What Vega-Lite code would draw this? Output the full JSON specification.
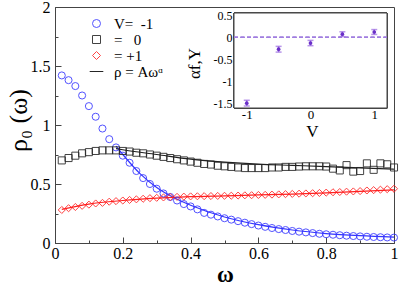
{
  "$schema": "https://vega.github.io/schema/vega-lite/v6.json",
  "width": 339,
  "height": 236,
  "autosize": {"type": "none"},
  "padding": {"left": 55, "top": 7, "right": 5, "bottom": 42},
  "background": "white",
  "config": {
    "font": "'Liberation Serif', 'Times New Roman', serif",
    "locale": {"number": {"decimal": ".", "thousands": ",", "grouping": [3], "currency": ["$", ""], "minus": "-"}},
    "view": {"stroke": "#444", "strokeWidth": 1},
    "axis": {"grid": false, "domainColor": "#444", "tickColor": "#444", "labelColor": "#000", "titleColor": "#000"}
  },
  "datasets": {
    "main": [
      {"w": 0.02, "rho": 1.42, "series": "V=\u00a0\u00a0-1"},
      {"w": 0.04, "rho": 1.38, "series": "V=\u00a0\u00a0-1"},
      {"w": 0.06, "rho": 1.33, "series": "V=\u00a0\u00a0-1"},
      {"w": 0.08, "rho": 1.25, "series": "V=\u00a0\u00a0-1"},
      {"w": 0.10, "rho": 1.16, "series": "V=\u00a0\u00a0-1"},
      {"w": 0.12, "rho": 1.07, "series": "V=\u00a0\u00a0-1"},
      {"w": 0.14, "rho": 0.97, "series": "V=\u00a0\u00a0-1"},
      {"w": 0.16, "rho": 0.88, "series": "V=\u00a0\u00a0-1"},
      {"w": 0.18, "rho": 0.81, "series": "V=\u00a0\u00a0-1"},
      {"w": 0.20, "rho": 0.74, "series": "V=\u00a0\u00a0-1"},
      {"w": 0.22, "rho": 0.68, "series": "V=\u00a0\u00a0-1"},
      {"w": 0.24, "rho": 0.61, "series": "V=\u00a0\u00a0-1"},
      {"w": 0.26, "rho": 0.55, "series": "V=\u00a0\u00a0-1"},
      {"w": 0.28, "rho": 0.50, "series": "V=\u00a0\u00a0-1"},
      {"w": 0.30, "rho": 0.46, "series": "V=\u00a0\u00a0-1"},
      {"w": 0.32, "rho": 0.42, "series": "V=\u00a0\u00a0-1"},
      {"w": 0.34, "rho": 0.39, "series": "V=\u00a0\u00a0-1"},
      {"w": 0.36, "rho": 0.36, "series": "V=\u00a0\u00a0-1"},
      {"w": 0.38, "rho": 0.33, "series": "V=\u00a0\u00a0-1"},
      {"w": 0.40, "rho": 0.31, "series": "V=\u00a0\u00a0-1"},
      {"w": 0.42, "rho": 0.285, "series": "V=\u00a0\u00a0-1"},
      {"w": 0.44, "rho": 0.255, "series": "V=\u00a0\u00a0-1"},
      {"w": 0.46, "rho": 0.24, "series": "V=\u00a0\u00a0-1"},
      {"w": 0.48, "rho": 0.225, "series": "V=\u00a0\u00a0-1"},
      {"w": 0.50, "rho": 0.21, "series": "V=\u00a0\u00a0-1"},
      {"w": 0.52, "rho": 0.198, "series": "V=\u00a0\u00a0-1"},
      {"w": 0.54, "rho": 0.185, "series": "V=\u00a0\u00a0-1"},
      {"w": 0.56, "rho": 0.172, "series": "V=\u00a0\u00a0-1"},
      {"w": 0.58, "rho": 0.16, "series": "V=\u00a0\u00a0-1"},
      {"w": 0.60, "rho": 0.148, "series": "V=\u00a0\u00a0-1"},
      {"w": 0.62, "rho": 0.137, "series": "V=\u00a0\u00a0-1"},
      {"w": 0.64, "rho": 0.127, "series": "V=\u00a0\u00a0-1"},
      {"w": 0.66, "rho": 0.118, "series": "V=\u00a0\u00a0-1"},
      {"w": 0.68, "rho": 0.11, "series": "V=\u00a0\u00a0-1"},
      {"w": 0.70, "rho": 0.102, "series": "V=\u00a0\u00a0-1"},
      {"w": 0.72, "rho": 0.096, "series": "V=\u00a0\u00a0-1"},
      {"w": 0.74, "rho": 0.09, "series": "V=\u00a0\u00a0-1"},
      {"w": 0.76, "rho": 0.084, "series": "V=\u00a0\u00a0-1"},
      {"w": 0.78, "rho": 0.078, "series": "V=\u00a0\u00a0-1"},
      {"w": 0.80, "rho": 0.074, "series": "V=\u00a0\u00a0-1"},
      {"w": 0.82, "rho": 0.07, "series": "V=\u00a0\u00a0-1"},
      {"w": 0.84, "rho": 0.066, "series": "V=\u00a0\u00a0-1"},
      {"w": 0.86, "rho": 0.062, "series": "V=\u00a0\u00a0-1"},
      {"w": 0.88, "rho": 0.059, "series": "V=\u00a0\u00a0-1"},
      {"w": 0.90, "rho": 0.056, "series": "V=\u00a0\u00a0-1"},
      {"w": 0.92, "rho": 0.053, "series": "V=\u00a0\u00a0-1"},
      {"w": 0.94, "rho": 0.051, "series": "V=\u00a0\u00a0-1"},
      {"w": 0.96, "rho": 0.049, "series": "V=\u00a0\u00a0-1"},
      {"w": 0.98, "rho": 0.047, "series": "V=\u00a0\u00a0-1"},
      {"w": 1.00, "rho": 0.046, "series": "V=\u00a0\u00a0-1"},
      {"w": 0.02, "rho": 0.70, "series": "\u00a0\u00a0\u00a0=\u00a0\u00a0\u00a00"},
      {"w": 0.04, "rho": 0.72, "series": "\u00a0\u00a0\u00a0=\u00a0\u00a0\u00a00"},
      {"w": 0.06, "rho": 0.74, "series": "\u00a0\u00a0\u00a0=\u00a0\u00a0\u00a00"},
      {"w": 0.08, "rho": 0.76, "series": "\u00a0\u00a0\u00a0=\u00a0\u00a0\u00a00"},
      {"w": 0.10, "rho": 0.77, "series": "\u00a0\u00a0\u00a0=\u00a0\u00a0\u00a00"},
      {"w": 0.12, "rho": 0.78, "series": "\u00a0\u00a0\u00a0=\u00a0\u00a0\u00a00"},
      {"w": 0.14, "rho": 0.785, "series": "\u00a0\u00a0\u00a0=\u00a0\u00a0\u00a00"},
      {"w": 0.16, "rho": 0.785, "series": "\u00a0\u00a0\u00a0=\u00a0\u00a0\u00a00"},
      {"w": 0.18, "rho": 0.785, "series": "\u00a0\u00a0\u00a0=\u00a0\u00a0\u00a00"},
      {"w": 0.20, "rho": 0.78, "series": "\u00a0\u00a0\u00a0=\u00a0\u00a0\u00a00"},
      {"w": 0.22, "rho": 0.775, "series": "\u00a0\u00a0\u00a0=\u00a0\u00a0\u00a00"},
      {"w": 0.24, "rho": 0.765, "series": "\u00a0\u00a0\u00a0=\u00a0\u00a0\u00a00"},
      {"w": 0.26, "rho": 0.76, "series": "\u00a0\u00a0\u00a0=\u00a0\u00a0\u00a00"},
      {"w": 0.28, "rho": 0.75, "series": "\u00a0\u00a0\u00a0=\u00a0\u00a0\u00a00"},
      {"w": 0.30, "rho": 0.74, "series": "\u00a0\u00a0\u00a0=\u00a0\u00a0\u00a00"},
      {"w": 0.32, "rho": 0.73, "series": "\u00a0\u00a0\u00a0=\u00a0\u00a0\u00a00"},
      {"w": 0.34, "rho": 0.72, "series": "\u00a0\u00a0\u00a0=\u00a0\u00a0\u00a00"},
      {"w": 0.36, "rho": 0.71, "series": "\u00a0\u00a0\u00a0=\u00a0\u00a0\u00a00"},
      {"w": 0.38, "rho": 0.70, "series": "\u00a0\u00a0\u00a0=\u00a0\u00a0\u00a00"},
      {"w": 0.40, "rho": 0.69, "series": "\u00a0\u00a0\u00a0=\u00a0\u00a0\u00a00"},
      {"w": 0.42, "rho": 0.68, "series": "\u00a0\u00a0\u00a0=\u00a0\u00a0\u00a00"},
      {"w": 0.44, "rho": 0.67, "series": "\u00a0\u00a0\u00a0=\u00a0\u00a0\u00a00"},
      {"w": 0.46, "rho": 0.665, "series": "\u00a0\u00a0\u00a0=\u00a0\u00a0\u00a00"},
      {"w": 0.48, "rho": 0.655, "series": "\u00a0\u00a0\u00a0=\u00a0\u00a0\u00a00"},
      {"w": 0.50, "rho": 0.65, "series": "\u00a0\u00a0\u00a0=\u00a0\u00a0\u00a00"},
      {"w": 0.52, "rho": 0.645, "series": "\u00a0\u00a0\u00a0=\u00a0\u00a0\u00a00"},
      {"w": 0.54, "rho": 0.64, "series": "\u00a0\u00a0\u00a0=\u00a0\u00a0\u00a00"},
      {"w": 0.56, "rho": 0.635, "series": "\u00a0\u00a0\u00a0=\u00a0\u00a0\u00a00"},
      {"w": 0.58, "rho": 0.635, "series": "\u00a0\u00a0\u00a0=\u00a0\u00a0\u00a00"},
      {"w": 0.60, "rho": 0.635, "series": "\u00a0\u00a0\u00a0=\u00a0\u00a0\u00a00"},
      {"w": 0.62, "rho": 0.635, "series": "\u00a0\u00a0\u00a0=\u00a0\u00a0\u00a00"},
      {"w": 0.64, "rho": 0.64, "series": "\u00a0\u00a0\u00a0=\u00a0\u00a0\u00a00"},
      {"w": 0.66, "rho": 0.64, "series": "\u00a0\u00a0\u00a0=\u00a0\u00a0\u00a00"},
      {"w": 0.68, "rho": 0.645, "series": "\u00a0\u00a0\u00a0=\u00a0\u00a0\u00a00"},
      {"w": 0.70, "rho": 0.645, "series": "\u00a0\u00a0\u00a0=\u00a0\u00a0\u00a00"},
      {"w": 0.72, "rho": 0.648, "series": "\u00a0\u00a0\u00a0=\u00a0\u00a0\u00a00"},
      {"w": 0.74, "rho": 0.65, "series": "\u00a0\u00a0\u00a0=\u00a0\u00a0\u00a00"},
      {"w": 0.76, "rho": 0.65, "series": "\u00a0\u00a0\u00a0=\u00a0\u00a0\u00a00"},
      {"w": 0.78, "rho": 0.65, "series": "\u00a0\u00a0\u00a0=\u00a0\u00a0\u00a00"},
      {"w": 0.80, "rho": 0.648, "series": "\u00a0\u00a0\u00a0=\u00a0\u00a0\u00a00"},
      {"w": 0.82, "rho": 0.63, "series": "\u00a0\u00a0\u00a0=\u00a0\u00a0\u00a00"},
      {"w": 0.84, "rho": 0.615, "series": "\u00a0\u00a0\u00a0=\u00a0\u00a0\u00a00"},
      {"w": 0.86, "rho": 0.66, "series": "\u00a0\u00a0\u00a0=\u00a0\u00a0\u00a00"},
      {"w": 0.88, "rho": 0.605, "series": "\u00a0\u00a0\u00a0=\u00a0\u00a0\u00a00"},
      {"w": 0.90, "rho": 0.61, "series": "\u00a0\u00a0\u00a0=\u00a0\u00a0\u00a00"},
      {"w": 0.92, "rho": 0.675, "series": "\u00a0\u00a0\u00a0=\u00a0\u00a0\u00a00"},
      {"w": 0.94, "rho": 0.62, "series": "\u00a0\u00a0\u00a0=\u00a0\u00a0\u00a00"},
      {"w": 0.96, "rho": 0.675, "series": "\u00a0\u00a0\u00a0=\u00a0\u00a0\u00a00"},
      {"w": 0.98, "rho": 0.667, "series": "\u00a0\u00a0\u00a0=\u00a0\u00a0\u00a00"},
      {"w": 1.00, "rho": 0.64, "series": "\u00a0\u00a0\u00a0=\u00a0\u00a0\u00a00"},
      {"w": 0.02, "rho": 0.28, "series": "\u00a0\u00a0\u00a0=\u00a0+1"},
      {"w": 0.04, "rho": 0.295, "series": "\u00a0\u00a0\u00a0=\u00a0+1"},
      {"w": 0.06, "rho": 0.305, "series": "\u00a0\u00a0\u00a0=\u00a0+1"},
      {"w": 0.08, "rho": 0.315, "series": "\u00a0\u00a0\u00a0=\u00a0+1"},
      {"w": 0.10, "rho": 0.325, "series": "\u00a0\u00a0\u00a0=\u00a0+1"},
      {"w": 0.12, "rho": 0.335, "series": "\u00a0\u00a0\u00a0=\u00a0+1"},
      {"w": 0.14, "rho": 0.34, "series": "\u00a0\u00a0\u00a0=\u00a0+1"},
      {"w": 0.16, "rho": 0.35, "series": "\u00a0\u00a0\u00a0=\u00a0+1"},
      {"w": 0.18, "rho": 0.355, "series": "\u00a0\u00a0\u00a0=\u00a0+1"},
      {"w": 0.20, "rho": 0.36, "series": "\u00a0\u00a0\u00a0=\u00a0+1"},
      {"w": 0.22, "rho": 0.365, "series": "\u00a0\u00a0\u00a0=\u00a0+1"},
      {"w": 0.24, "rho": 0.37, "series": "\u00a0\u00a0\u00a0=\u00a0+1"},
      {"w": 0.26, "rho": 0.375, "series": "\u00a0\u00a0\u00a0=\u00a0+1"},
      {"w": 0.28, "rho": 0.38, "series": "\u00a0\u00a0\u00a0=\u00a0+1"},
      {"w": 0.30, "rho": 0.383, "series": "\u00a0\u00a0\u00a0=\u00a0+1"},
      {"w": 0.32, "rho": 0.386, "series": "\u00a0\u00a0\u00a0=\u00a0+1"},
      {"w": 0.34, "rho": 0.389, "series": "\u00a0\u00a0\u00a0=\u00a0+1"},
      {"w": 0.36, "rho": 0.391, "series": "\u00a0\u00a0\u00a0=\u00a0+1"},
      {"w": 0.38, "rho": 0.393, "series": "\u00a0\u00a0\u00a0=\u00a0+1"},
      {"w": 0.40, "rho": 0.395, "series": "\u00a0\u00a0\u00a0=\u00a0+1"},
      {"w": 0.42, "rho": 0.396, "series": "\u00a0\u00a0\u00a0=\u00a0+1"},
      {"w": 0.44, "rho": 0.397, "series": "\u00a0\u00a0\u00a0=\u00a0+1"},
      {"w": 0.46, "rho": 0.398, "series": "\u00a0\u00a0\u00a0=\u00a0+1"},
      {"w": 0.48, "rho": 0.399, "series": "\u00a0\u00a0\u00a0=\u00a0+1"},
      {"w": 0.50, "rho": 0.40, "series": "\u00a0\u00a0\u00a0=\u00a0+1"},
      {"w": 0.52, "rho": 0.401, "series": "\u00a0\u00a0\u00a0=\u00a0+1"},
      {"w": 0.54, "rho": 0.402, "series": "\u00a0\u00a0\u00a0=\u00a0+1"},
      {"w": 0.56, "rho": 0.404, "series": "\u00a0\u00a0\u00a0=\u00a0+1"},
      {"w": 0.58, "rho": 0.405, "series": "\u00a0\u00a0\u00a0=\u00a0+1"},
      {"w": 0.60, "rho": 0.407, "series": "\u00a0\u00a0\u00a0=\u00a0+1"},
      {"w": 0.62, "rho": 0.408, "series": "\u00a0\u00a0\u00a0=\u00a0+1"},
      {"w": 0.64, "rho": 0.41, "series": "\u00a0\u00a0\u00a0=\u00a0+1"},
      {"w": 0.66, "rho": 0.412, "series": "\u00a0\u00a0\u00a0=\u00a0+1"},
      {"w": 0.68, "rho": 0.414, "series": "\u00a0\u00a0\u00a0=\u00a0+1"},
      {"w": 0.70, "rho": 0.416, "series": "\u00a0\u00a0\u00a0=\u00a0+1"},
      {"w": 0.72, "rho": 0.418, "series": "\u00a0\u00a0\u00a0=\u00a0+1"},
      {"w": 0.74, "rho": 0.42, "series": "\u00a0\u00a0\u00a0=\u00a0+1"},
      {"w": 0.76, "rho": 0.422, "series": "\u00a0\u00a0\u00a0=\u00a0+1"},
      {"w": 0.78, "rho": 0.424, "series": "\u00a0\u00a0\u00a0=\u00a0+1"},
      {"w": 0.80, "rho": 0.427, "series": "\u00a0\u00a0\u00a0=\u00a0+1"},
      {"w": 0.82, "rho": 0.43, "series": "\u00a0\u00a0\u00a0=\u00a0+1"},
      {"w": 0.84, "rho": 0.432, "series": "\u00a0\u00a0\u00a0=\u00a0+1"},
      {"w": 0.86, "rho": 0.435, "series": "\u00a0\u00a0\u00a0=\u00a0+1"},
      {"w": 0.88, "rho": 0.437, "series": "\u00a0\u00a0\u00a0=\u00a0+1"},
      {"w": 0.90, "rho": 0.44, "series": "\u00a0\u00a0\u00a0=\u00a0+1"},
      {"w": 0.92, "rho": 0.445, "series": "\u00a0\u00a0\u00a0=\u00a0+1"},
      {"w": 0.94, "rho": 0.448, "series": "\u00a0\u00a0\u00a0=\u00a0+1"},
      {"w": 0.96, "rho": 0.452, "series": "\u00a0\u00a0\u00a0=\u00a0+1"},
      {"w": 0.98, "rho": 0.456, "series": "\u00a0\u00a0\u00a0=\u00a0+1"},
      {"w": 1.00, "rho": 0.46, "series": "\u00a0\u00a0\u00a0=\u00a0+1"}
    ],
    "fit": [
      {"w": 0.18, "rho": 0.82, "series": "V=\u00a0\u00a0-1"},
      {"w": 0.20, "rho": 0.75, "series": "V=\u00a0\u00a0-1"},
      {"w": 0.25, "rho": 0.59, "series": "V=\u00a0\u00a0-1"},
      {"w": 0.30, "rho": 0.47, "series": "V=\u00a0\u00a0-1"},
      {"w": 0.35, "rho": 0.385, "series": "V=\u00a0\u00a0-1"},
      {"w": 0.40, "rho": 0.32, "series": "V=\u00a0\u00a0-1"},
      {"w": 0.50, "rho": 0.22, "series": "V=\u00a0\u00a0-1"},
      {"w": 0.60, "rho": 0.155, "series": "V=\u00a0\u00a0-1"},
      {"w": 0.70, "rho": 0.11, "series": "V=\u00a0\u00a0-1"},
      {"w": 0.80, "rho": 0.08, "series": "V=\u00a0\u00a0-1"},
      {"w": 0.90, "rho": 0.062, "series": "V=\u00a0\u00a0-1"},
      {"w": 1.00, "rho": 0.05, "series": "V=\u00a0\u00a0-1"},
      {"w": 0.18, "rho": 0.80, "series": "\u00a0\u00a0\u00a0=\u00a0\u00a0\u00a00"},
      {"w": 0.20, "rho": 0.79, "series": "\u00a0\u00a0\u00a0=\u00a0\u00a0\u00a00"},
      {"w": 0.30, "rho": 0.75, "series": "\u00a0\u00a0\u00a0=\u00a0\u00a0\u00a00"},
      {"w": 0.40, "rho": 0.71, "series": "\u00a0\u00a0\u00a0=\u00a0\u00a0\u00a00"},
      {"w": 0.50, "rho": 0.685, "series": "\u00a0\u00a0\u00a0=\u00a0\u00a0\u00a00"},
      {"w": 0.60, "rho": 0.668, "series": "\u00a0\u00a0\u00a0=\u00a0\u00a0\u00a00"},
      {"w": 0.70, "rho": 0.658, "series": "\u00a0\u00a0\u00a0=\u00a0\u00a0\u00a00"},
      {"w": 0.80, "rho": 0.648, "series": "\u00a0\u00a0\u00a0=\u00a0\u00a0\u00a00"},
      {"w": 0.90, "rho": 0.637, "series": "\u00a0\u00a0\u00a0=\u00a0\u00a0\u00a00"},
      {"w": 1.00, "rho": 0.625, "series": "\u00a0\u00a0\u00a0=\u00a0\u00a0\u00a00"},
      {"w": 0.02, "rho": 0.285, "series": "\u00a0\u00a0\u00a0=\u00a0+1"},
      {"w": 0.10, "rho": 0.33, "series": "\u00a0\u00a0\u00a0=\u00a0+1"},
      {"w": 0.20, "rho": 0.36, "series": "\u00a0\u00a0\u00a0=\u00a0+1"},
      {"w": 0.30, "rho": 0.38, "series": "\u00a0\u00a0\u00a0=\u00a0+1"},
      {"w": 0.40, "rho": 0.393, "series": "\u00a0\u00a0\u00a0=\u00a0+1"},
      {"w": 0.50, "rho": 0.40, "series": "\u00a0\u00a0\u00a0=\u00a0+1"},
      {"w": 0.60, "rho": 0.407, "series": "\u00a0\u00a0\u00a0=\u00a0+1"},
      {"w": 0.70, "rho": 0.415, "series": "\u00a0\u00a0\u00a0=\u00a0+1"},
      {"w": 0.80, "rho": 0.425, "series": "\u00a0\u00a0\u00a0=\u00a0+1"},
      {"w": 0.90, "rho": 0.437, "series": "\u00a0\u00a0\u00a0=\u00a0+1"},
      {"w": 1.00, "rho": 0.45, "series": "\u00a0\u00a0\u00a0=\u00a0+1"}
    ],
    "inset": [
      {"V": -1, "a": -1.49, "lo": -1.555, "hi": -1.425},
      {"V": -0.5, "a": -0.27, "lo": -0.335, "hi": -0.205},
      {"V": 0, "a": -0.13, "lo": -0.19, "hi": -0.07},
      {"V": 0.5, "a": 0.07, "lo": 0.015, "hi": 0.125},
      {"V": 1, "a": 0.12, "lo": 0.065, "hi": 0.175}
    ]
  },
  "layer": [
    {
      "data": {"name": "fit"},
      "mark": {"type": "line", "strokeWidth": 1.2, "interpolate": "monotone"},
      "encoding": {
        "x": {"field": "w", "type": "quantitative", "scale": {"domain": [0, 1]},
          "axis": {"orient": "bottom", "values": [0.1, 0.3, 0.5, 0.7, 0.9], "tickSize": -3, "labels": false, "domain": false, "title": null}},
        "y": {"field": "rho", "type": "quantitative", "scale": {"domain": [0, 2]},
          "axis": {"orient": "left", "values": [0.25, 0.75, 1.25, 1.75], "tickSize": -3, "labels": false, "domain": false, "title": null}},
        "color": {"field": "series", "type": "nominal", "legend": null,
          "scale": {"domain": ["V=\u00a0\u00a0-1", "\u00a0\u00a0\u00a0=\u00a0\u00a0\u00a00", "\u00a0\u00a0\u00a0=\u00a0+1", "\u03c1 = A\u03c9\u1d45"], "range": ["#3535ff", "#222222", "#ff2020", "#000000"]}}
      }
    },
    {
      "data": {"name": "main"},
      "mark": {"type": "point", "filled": false, "size": 50, "strokeWidth": 1, "opacity": 0.85},
      "encoding": {
        "x": {"field": "w", "type": "quantitative", "scale": {"domain": [0, 1]},
          "axis": {"orient": "bottom", "title": "\u03c9", "values": [0, 0.2, 0.4, 0.6, 0.8, 1], "format": "~g",
            "tickSize": -6, "labelPadding": 8, "labelFontSize": 16, "labelFlush": false,
            "titleFontSize": 23, "titleFontWeight": "bold", "titleX": 170, "titleY": 31, "titleBaseline": "middle"}},
        "y": {"field": "rho", "type": "quantitative", "scale": {"domain": [0, 2]},
          "axis": {"orient": "left", "title": "\u03c1\u2080\u00a0(\u03c9)", "values": [0, 0.5, 1, 1.5, 2], "format": "~g",
            "tickSize": -6, "labelPadding": 11, "labelFontSize": 16, "labelFlush": false,
            "titleFontSize": 26, "titleFontWeight": "normal", "titleX": -37, "titleY": 113, "titleAngle": 270, "titleAlign": "center", "titleBaseline": "middle"}},
        "color": {"field": "series", "type": "nominal",
          "scale": {"domain": ["V=\u00a0\u00a0-1", "\u00a0\u00a0\u00a0=\u00a0\u00a0\u00a00", "\u00a0\u00a0\u00a0=\u00a0+1", "\u03c1 = A\u03c9\u1d45"], "range": ["#3535ff", "#222222", "#ff2020", "#000000"]},
          "legend": {"orient": "none", "legendX": 34, "legendY": 9, "title": null, "labelFontSize": 15, "symbolSize": 64, "symbolStrokeWidth": 1, "labelOffset": 10, "rowPadding": 0, "padding": 0, "labelColor": "#000"}},
        "shape": {"field": "series", "type": "nominal",
          "scale": {"domain": ["V=\u00a0\u00a0-1", "\u00a0\u00a0\u00a0=\u00a0\u00a0\u00a00", "\u00a0\u00a0\u00a0=\u00a0+1", "\u03c1 = A\u03c9\u1d45"], "range": ["circle", "square", "diamond", "M-1.7,0L1.7,0"]}}
      }
    },
    {
      "data": {"name": "inset"},
      "mark": {"type": "rect", "fill": "white", "stroke": "#444", "strokeWidth": 1},
      "encoding": {
        "x": {"datum": -1.2, "type": "quantitative", "scale": {"domain": [-1.2, 1.2], "range": [179, 332]}, "axis": null},
        "x2": {"datum": 1.2},
        "y": {"datum": -1.6, "type": "quantitative", "scale": {"domain": [-1.6, 0.55], "range": [101, 6]}, "axis": null},
        "y2": {"datum": 0.55}
      }
    },
    {
      "data": {"name": "inset"},
      "mark": {"type": "rule", "color": "#a17ee0", "strokeWidth": 1.3, "strokeDash": [4, 2.5]},
      "encoding": {
        "x": {"datum": -1.2, "type": "quantitative", "scale": {"domain": [-1.2, 1.2], "range": [179, 332]}, "axis": null},
        "x2": {"datum": 1.2},
        "y": {"datum": 0, "type": "quantitative", "scale": {"domain": [-1.6, 0.55], "range": [101, 6]}, "axis": null}
      }
    },
    {
      "data": {"name": "inset"},
      "mark": {"type": "rule", "color": "#9a6ae0", "strokeWidth": 1.5},
      "encoding": {
        "x": {"field": "V", "type": "quantitative", "scale": {"domain": [-1.2, 1.2], "range": [179, 332]},
          "axis": {"orient": "bottom", "offset": -135, "title": "V", "values": [-1, 0, 1], "format": "~g",
            "tickSize": -4, "labelPadding": 4, "labelFontSize": 13, "labelFlush": false,
            "titleFontSize": 17, "titleFontWeight": "normal", "titleX": 257, "titleY": 23, "titleBaseline": "middle"}},
        "y": {"field": "lo", "type": "quantitative", "scale": {"domain": [-1.6, 0.55], "range": [101, 6]},
          "axis": {"orient": "left", "offset": -179, "title": "\u03b1f,Y", "values": [-1.5, -1, -0.5, 0, 0.5], "format": "~g",
            "tickSize": -4, "labelPadding": 6, "labelFontSize": 12, "labelFlush": false,
            "titleFontSize": 17, "titleFontWeight": "normal", "titleX": -40, "titleY": 56, "titleAngle": 270, "titleAlign": "center", "titleBaseline": "middle"}},
        "y2": {"field": "hi"}
      }
    },
    {
      "data": {"name": "inset"},
      "mark": {"type": "tick", "orient": "horizontal", "color": "#9a6ae0", "size": 6, "thickness": 1.5},
      "encoding": {
        "x": {"field": "V", "type": "quantitative", "scale": {"domain": [-1.2, 1.2], "range": [179, 332]}, "axis": null},
        "y": {"field": "lo", "type": "quantitative", "scale": {"domain": [-1.6, 0.55], "range": [101, 6]}, "axis": null}
      }
    },
    {
      "data": {"name": "inset"},
      "mark": {"type": "tick", "orient": "horizontal", "color": "#9a6ae0", "size": 6, "thickness": 1.5},
      "encoding": {
        "x": {"field": "V", "type": "quantitative", "scale": {"domain": [-1.2, 1.2], "range": [179, 332]}, "axis": null},
        "y": {"field": "hi", "type": "quantitative", "scale": {"domain": [-1.6, 0.55], "range": [101, 6]}, "axis": null}
      }
    },
    {
      "data": {"name": "inset"},
      "mark": {"type": "point", "filled": true, "size": 14, "color": "#6a2fc8", "opacity": 1},
      "encoding": {
        "x": {"field": "V", "type": "quantitative", "scale": {"domain": [-1.2, 1.2], "range": [179, 332]},
          "axis": {"orient": "bottom", "offset": -135, "values": [-0.5, 0.5], "tickSize": -2.5, "labels": false, "domain": false, "title": null}},
        "y": {"field": "a", "type": "quantitative", "scale": {"domain": [-1.6, 0.55], "range": [101, 6]}, "axis": null}
      }
    }
  ],
  "resolve": {"scale": {"x": "independent", "y": "independent", "color": "independent", "shape": "independent"}, "axis": {"x": "independent", "y": "independent"}}
}
